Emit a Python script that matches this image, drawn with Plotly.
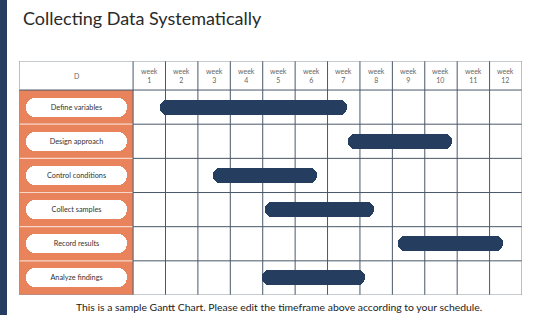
import plotly.graph_objects as go

# ---- data ----
tasks = ["Define variables", "Design approach", "Control conditions",
         "Collect samples", "Record results", "Analyze findings"]
start_week = [0.83, 6.63, 2.46, 4.07, 8.16, 3.97]
end_week = [6.61, 9.83, 5.67, 7.42, 11.40, 7.16]
week_labels = [f"week<br>{i}" for i in range(1, 13)]
header_label = "D"
title_text = "Collecting Data Systematically"
footer_text = "This is a sample Gantt Chart. Please edit the timeframe above according to your schedule."

# ---- style ----
W, H = 560, 315
NAVY = "#253d5e"
ORANGE = "#e8835c"
GRID = "#4a5869"
BORDER = "#8d97a2"
FONT = "Lato"

n_weeks = len(week_labels)
n_rows = len(tasks)
label_w = -3.52     # label column extent in week units
header_h = 0.85     # header height in row units
rows = list(range(n_rows))

# plot area pixels
L, R, T, B = 19, 38, 61, 20
pw, ph = W - L - R, H - T - B

def px_to_paper_x(px):
    return (px - L) / pw

def px_to_paper_y(py):
    return (H - B - py) / ph

fig = go.Figure()

# pills (label buttons)
fig.add_trace(go.Bar(
    y=rows, x=[3.11] * n_rows, base=[-3.30] * n_rows, orientation="h",
    width=0.56, marker=dict(color="white", cornerradius="50%", line=dict(width=0)),
    text=tasks, textposition="inside", insidetextanchor="middle",
    textfont=dict(size=7.3, color="#333333", family=FONT),
    hoverinfo="skip", showlegend=False,
))

# gantt bars
fig.add_trace(go.Bar(
    y=rows, x=[e - s for s, e in zip(start_week, end_week)], base=start_week,
    orientation="h", width=0.44,
    marker=dict(color=NAVY, cornerradius="50%", line=dict(width=0)),
    hoverinfo="skip", showlegend=False,
))

shapes = []
# orange label column
shapes.append(dict(type="rect", xref="x", yref="y", x0=label_w, x1=0,
                   y0=-0.5, y1=n_rows - 0.5, fillcolor=ORANGE,
                   line=dict(width=0), layer="below"))
# separators in label column
for r in range(1, n_rows):
    shapes.append(dict(type="line", xref="x", yref="y", x0=label_w, x1=0,
                       y0=r - 0.5, y1=r - 0.5,
                       line=dict(color="#f6d7c9", width=1.2), layer="below"))
# horizontal grid lines in week area
for r in range(0, n_rows):
    shapes.append(dict(type="line", xref="x", yref="y", x0=0, x1=n_weeks,
                       y0=r - 0.5, y1=r - 0.5,
                       line=dict(color=GRID, width=1), layer="below"))
# header bottom line across label column
shapes.append(dict(type="line", xref="x", yref="y", x0=label_w, x1=0,
                   y0=-0.5, y1=-0.5, line=dict(color=GRID, width=1), layer="below"))
# vertical grid lines
for c in range(0, n_weeks):
    shapes.append(dict(type="line", xref="x", yref="y", x0=c, x1=c,
                       y0=-0.5 - header_h, y1=n_rows - 0.5,
                       line=dict(color=GRID, width=1), layer="below"))
# outer border
shapes.append(dict(type="rect", xref="x", yref="y", x0=label_w, x1=n_weeks,
                   y0=-0.5 - header_h, y1=n_rows - 0.5,
                   line=dict(color=BORDER, width=1.2), fillcolor="rgba(0,0,0,0)",
                   layer="below"))
# left navy strip
shapes.append(dict(type="rect", xref="paper", yref="paper",
                   x0=px_to_paper_x(0), x1=px_to_paper_x(7),
                   y0=px_to_paper_y(H), y1=px_to_paper_y(0),
                   fillcolor=NAVY, line=dict(width=0), layer="below"))

annotations = []
for i, wl in enumerate(week_labels):
    annotations.append(dict(x=i + 0.5, y=-0.5 - header_h / 2, xref="x", yref="y",
                            text=wl, showarrow=False,
                            font=dict(size=7, color="#666666", family=FONT)))
annotations.append(dict(x=label_w / 2, y=-0.5 - header_h / 2, xref="x", yref="y",
                        text=header_label, showarrow=False,
                        font=dict(size=7, color="#666666", family=FONT)))
annotations.append(dict(x=px_to_paper_x(21), y=px_to_paper_y(18), xref="paper", yref="paper",
                        xanchor="left", yanchor="middle", text=title_text, showarrow=False,
                        font=dict(size=18, color="#2a2a2a", family=FONT)))
annotations.append(dict(x=px_to_paper_x(279), y=px_to_paper_y(307), xref="paper", yref="paper",
                        xanchor="center", yanchor="middle", text=footer_text, showarrow=False,
                        font=dict(size=10.4, color="#222222", family=FONT)))

fig.update_layout(
    width=W, height=H,
    margin=dict(l=L, r=R, t=T, b=B, pad=0),
    paper_bgcolor="white", plot_bgcolor="white",
    shapes=shapes, annotations=annotations,
    barmode="overlay", bargap=0,
    xaxis=dict(range=[label_w, n_weeks], showgrid=False, zeroline=False,
               showticklabels=False, ticks="", fixedrange=True),
    yaxis=dict(range=[n_rows - 0.5, -0.5 - header_h], showgrid=False, zeroline=False,
               showticklabels=False, ticks="", fixedrange=True),
    uniformtext=dict(minsize=6, mode="show"),
)

fig.write_html("out.html", config={"displayModeBar": False})
